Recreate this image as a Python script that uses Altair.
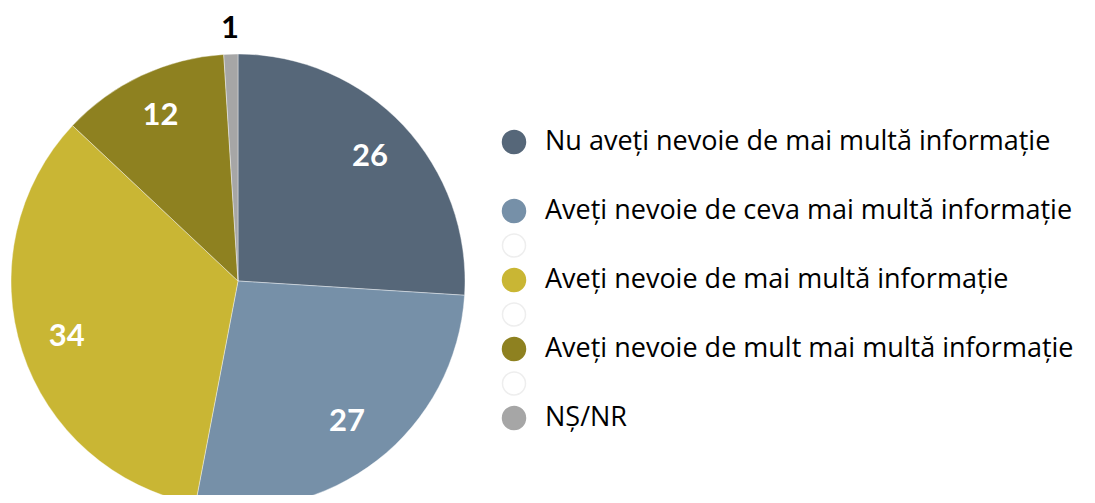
import altair as alt
import pandas as pd

categories = [
    "Nu aveți nevoie de mai multă informație",
    "Aveți nevoie de ceva mai multă informație",
    "Aveți nevoie de mai multă informație",
    "Aveți nevoie de mult mai multă informație",
    "NȘ/NR",
]
values = [26, 27, 34, 12, 1]
colors = ["#566779", "#7690a8", "#c9b634", "#8e8120", "#a6a6a6"]
label_colors = ["white", "white", "white", "white", "black"]
label_radius = [181, 178, 180, 182, 252]

# legend rows (blank rows hold faint empty circles like the reference)
legend_rows = [0, 2, 3, 4, 5, 6, 7, 8]
legend_text = [categories[0], categories[1], "", categories[2], "", categories[3], "", categories[4]]
legend_fill = [colors[0], colors[1], "white", colors[2], "white", colors[3], "white", colors[4]]
legend_stroke = [colors[0], colors[1], "#eeeeee", colors[2], "#eeeeee", colors[3], "#eeeeee", colors[4]]

pie_df = pd.DataFrame({
    "cat": categories,
    "value": values,
    "idx": list(range(len(values))),
    "tc": label_colors,
    "lr": label_radius,
})
leg_df = pd.DataFrame({
    "row": legend_rows,
    "label": legend_text,
    "fill": legend_fill,
    "stroke": legend_stroke,
})

CX, CY = 230, 273
NUM_FONT = "Lato"
LEG_FONT = "Open Sans"
theta_scale = alt.Scale(domain=[0, sum(values)])

arcs = alt.Chart(pie_df).mark_arc(radius=227, stroke="white", strokeWidth=0.4).encode(
    theta=alt.Theta("value:Q", stack=True, scale=theta_scale),
    order=alt.Order("idx:Q"),
    color=alt.Color("cat:N", scale=alt.Scale(domain=categories, range=colors), legend=None),
    x=alt.value(CX),
    y=alt.value(CY),
)

labels = alt.Chart(pie_df).transform_window(
    cum="sum(value)", sort=[alt.SortField("idx")]
).transform_calculate(
    mid="datum.cum - datum.value / 2"
).mark_text(font=NUM_FONT, fontSize=31, fontWeight="bold",
            align="center", baseline="middle").encode(
    theta=alt.Theta("mid:Q", stack=None, scale=theta_scale),
    radius=alt.Radius("lr:Q", scale=None),
    fill=alt.Fill("tc:N", scale=None),
    text=alt.Text("value:Q"),
    x=alt.value(CX),
    y=alt.value(CY),
)

yscale = alt.Scale(domain=[0, 8], range=[134, 410])

leg_pts = alt.Chart(leg_df).mark_point(shape="circle", size=529, filled=True, strokeWidth=1.5).encode(
    y=alt.Y("row:Q", scale=yscale, axis=None),
    x=alt.value(506),
    fill=alt.Fill("fill:N", scale=None),
    stroke=alt.Stroke("stroke:N", scale=None),
    opacity=alt.value(1),
)

leg_txt = alt.Chart(leg_df).mark_text(font=LEG_FONT, fontSize=27, align="left", baseline="middle",
                                      color="black").encode(
    y=alt.Y("row:Q", scale=yscale, axis=None),
    x=alt.value(537),
    text="label:N",
)

chart = alt.layer(arcs, labels, leg_pts, leg_txt).properties(
    width=1079, height=487, padding=0, autosize=alt.AutoSizeParams(type="none")
).configure_view(stroke=None)

chart.save("out.html", embed_options={"renderer": "svg", "actions": False})
